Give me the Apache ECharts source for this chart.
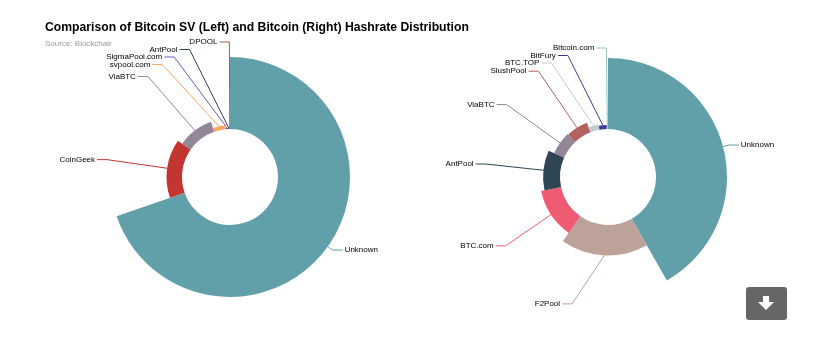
<!DOCTYPE html>
<html>
<head>
<meta charset="utf-8">
<script src="https://cdn.jsdelivr.net/npm/echarts@6/dist/echarts.min.js"></script>
<style>
html,body{margin:0;padding:0;background:#fff;}
#chart{width:824px;height:355px;}
</style>
</head>
<body>
<div id="chart"></div>
<script>
// ---- data (% of hashrate) ----
const leftNames = ['Unknown', 'CoinGeek', 'ViaBTC', 'svpool.com', 'SigmaPool.com', 'AntPool', 'DPOOL'];
const leftValues = [69.7, 15.0, 10.0, 3.8, 1.1, 0.25, 0.15];
const rightNames = ['Unknown', 'F2Pool', 'BTC.com', 'AntPool', 'ViaBTC', 'SlushPool', 'BTC.TOP', 'BitFury', 'Bitcoin.com'];
const rightValues = [41.6, 17.9, 11.9, 9.9, 6.4, 6.0, 3.1, 2.4, 0.4];

// ---- styles ----
const poolColors = {
  'Unknown': '#61a0a8', 'CoinGeek': '#c23531', 'ViaBTC': '#948699', 'svpool.com': '#f8a865',
  'SigmaPool.com': '#7158c8', 'AntPool': '#2f4554', 'DPOOL': '#a5603c', 'F2Pool': '#bda29a',
  'BTC.com': '#f05b74', 'SlushPool': '#b5615f', 'BTC.TOP': '#c4ccd3', 'BitFury': '#3b3b99',
  'Bitcoin.com': '#91c7ae'
};
// connector length overrides (label placement styling only)
const leftLineLen = { 'DPOOL': 15, 'AntPool': 9 };
const rightLineLen = { 'Bitcoin.com': 10 };
const rightLabelShift = { 'F2Pool': [-30, 2] };
const FONT = '"Liberation Sans", Arial, Helvetica, sans-serif';

function buildData(names, values, lenMap) {
  return names.map((n, i) => {
    const d = { name: n, value: values[i], itemStyle: { color: poolColors[n] } };
    if (lenMap[n] != null) d.labelLine = { length: lenMap[n] };
    return d;
  });
}

function pieSeries(names, values, center, radius, lenMap, shiftMap) {
  return {
    type: 'pie',
    roseType: 'radius',
    startAngle: 90,
    clockwise: true,
    center: center,
    radius: radius,
    avoidLabelOverlap: true,
    data: buildData(names, values, lenMap),
    label: {
      show: true,
      position: 'outside',
      formatter: '{b}',
      fontSize: 8,
      lineHeight: 8,
      minMargin: -0.5,
      color: '#000',
      fontFamily: FONT,
      distanceToLabelLine: 2
    },
    labelLine: { show: true, length: 6, length2: 10, lineStyle: { width: 1 } },
    labelLayout: function (params) {
      const s = shiftMap[names[params.dataIndex]];
      if (!s || !params.labelLinePoints) return {};
      const p = params.labelLinePoints;
      return {
        dx: s[0], dy: s[1],
        labelLinePoints: [
          [p[0][0], p[0][1]],
          [p[1][0] + s[0], p[1][1] + s[1]],
          [p[2][0] + s[0], p[2][1] + s[1]]
        ]
      };
    },
    itemStyle: { borderWidth: 0 },
    emphasis: { disabled: true }
  };
}

const chart = echarts.init(document.getElementById('chart'), null, { renderer: 'canvas' });
chart.setOption({
  animation: false,
  backgroundColor: '#fff',
  title: {
    text: 'Comparison of Bitcoin SV (Left) and Bitcoin (Right) Hashrate Distribution',
    subtext: 'Source: Blockchair',
    left: 45, top: 22, padding: 0, itemGap: 6,
    textStyle: { fontSize: 12.2, fontWeight: 'bold', color: '#000', fontFamily: FONT },
    subtextStyle: { fontSize: 8, color: '#999', fontFamily: FONT }
  },
  graphic: [
    { type: 'rect', shape: { x: 746, y: 287, width: 41, height: 33, r: 3 }, style: { fill: '#666' } },
    { type: 'polygon', shape: { points: [[763,296],[769,296],[769,302],[774,302],[766,310],[758,302],[763,302]] }, style: { fill: '#fff' } }
  ],
  series: [
    pieSeries(leftNames, leftValues, [230, 177], [48, 120], leftLineLen, {}),
    pieSeries(rightNames, rightValues, [608, 177], [48, 119], rightLineLen, rightLabelShift)
  ]
});
</script>
</body>
</html>
